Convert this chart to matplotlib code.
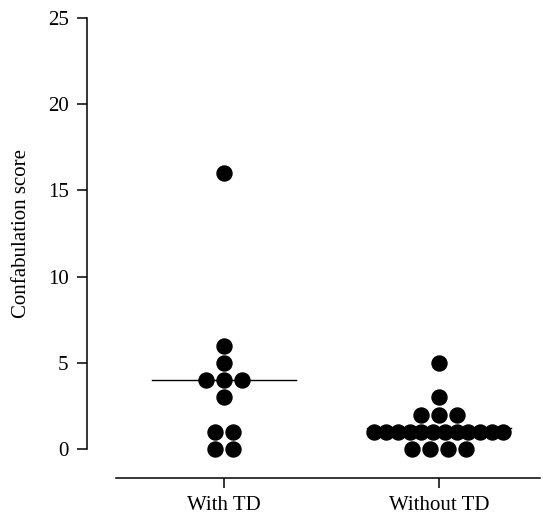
import numpy as np
import matplotlib
matplotlib.use("Agg")
import matplotlib.pyplot as plt

plt.rcParams['font.family'] = ['Liberation Serif', 'DejaVu Serif']

groups = ["With TD", "Without TD"]
with_td = [16, 6, 5, 4, 4, 4, 3, 1, 1, 0, 0]
without_td = [5, 3, 2, 2, 2] + [1] * 12 + [0, 0, 0, 0]
yticks = [0, 5, 10, 15, 20, 25]


def row_offsets(values, step=0.084, max_width=0.6):
    # spread equal values side by side, centred on the category
    values = np.asarray(values, dtype=float)
    offs = np.zeros(len(values))
    for v in np.unique(values):
        idx = np.where(values == v)[0]
        n = len(idx)
        s = step if (n - 1) * step <= max_width else max_width / (n - 1)
        offs[idx] = (np.arange(n) - (n - 1) / 2) * s
    return offs


fig = plt.figure(figsize=(5.43, 5.17), dpi=100)
ax = fig.add_axes([87 / 543, 1 - 449 / 517, (540 - 87) / 543, (449 - 18) / 517])

for i, vals in enumerate([with_td, without_td]):
    x = i + row_offsets(vals)
    ax.plot(x, vals, 'o', color='black', markersize=10.8, clip_on=False, zorder=3)
    m = np.mean(vals)
    ax.plot([i - 0.335, i + 0.335], [m, m], color='black', lw=1.0, zorder=2)

ax.set_xlim(-0.637, 1.47)
ax.set_ylim(0, 25)
ax.set_yticks(yticks)
ax.set_xticks([0, 1])
ax.set_xticklabels(groups)

for s in ['top', 'right']:
    ax.spines[s].set_visible(False)
ax.spines['left'].set_bounds(0, 25)
ax.spines['bottom'].set_position(('outward', 21))
ax.spines['bottom'].set_bounds(-0.5, 1.47)
for s in ['left', 'bottom']:
    ax.spines[s].set_linewidth(1.1)

ax.tick_params(axis='both', direction='out', length=7.2, width=1.1, labelsize=15)
ax.tick_params(axis='y', pad=6)
ax.tick_params(axis='x', pad=6)
ax.set_ylabel("Confabulation score", fontsize=15, labelpad=12)

fig.savefig("out.png", dpi=100)
